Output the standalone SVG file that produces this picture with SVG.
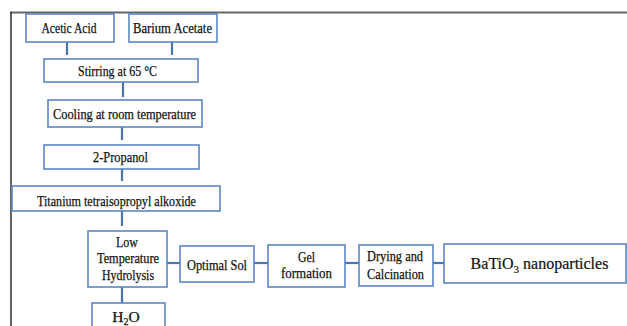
<svg xmlns="http://www.w3.org/2000/svg" width="627" height="326" viewBox="0 0 627 326">
<style>
.box{fill:#ffffff;stroke:#5b87c2;stroke-width:1.6}
.t{font-family:'Liberation Serif','DejaVu Serif','Times New Roman',serif;font-size:15.5px;fill:#111111;stroke:#111111;stroke-width:0.25;text-anchor:middle}
.big{font-family:'Liberation Serif','DejaVu Serif','Times New Roman',serif;font-size:16px;fill:#111111;stroke:#111111;stroke-width:0.2;text-anchor:middle}
.c{stroke:#4a76ae;stroke-width:2.2;fill:none}
</style>
<rect x="0" y="0" width="627" height="326" fill="#ffffff"/>
<g id="frame">
<line x1="10" y1="12.5" x2="627" y2="12.5" stroke="#666666" stroke-width="2"/>
<line x1="11" y1="12" x2="11" y2="326" stroke="#222222" stroke-width="1.4"/>
</g>
<g id="connectors">
<line class="c" x1="67" y1="42" x2="67" y2="55"/>
<line class="c" x1="172" y1="42" x2="172" y2="55"/>
<line class="c" x1="123" y1="82" x2="123" y2="97"/>
<line class="c" x1="122" y1="127" x2="122" y2="140"/>
<line class="c" x1="122" y1="169" x2="122" y2="181"/>
<line class="c" x1="122" y1="211" x2="122" y2="226"/>
<line class="c" x1="122" y1="287" x2="122" y2="303"/>
<line class="c" x1="167" y1="263" x2="180" y2="263"/>
<line class="c" x1="254" y1="263" x2="268" y2="263"/>
<line class="c" x1="345" y1="263" x2="359" y2="263"/>
<line class="c" x1="433" y1="263" x2="444" y2="263" stroke-width="1.4"/>
</g>
<g id="acetic-acid">
<rect class="box" x="26" y="14" width="88" height="28"/>
<text class="t" x="69" y="33" textLength="55" lengthAdjust="spacingAndGlyphs">Acetic Acid</text>
</g>
<g id="barium-acetate">
<rect class="box" x="129" y="14" width="88" height="28"/>
<text class="t" x="172.5" y="33" textLength="79" lengthAdjust="spacingAndGlyphs">Barium Acetate</text>
</g>
<g id="stirring">
<rect class="box" x="44" y="59" width="154" height="23"/>
<text class="t" x="117.5" y="76" textLength="79" lengthAdjust="spacingAndGlyphs">Stirring at 65 °C</text>
</g>
<g id="cooling">
<rect class="box" x="48" y="100" width="154" height="27"/>
<text class="t" x="124.5" y="119" textLength="143" lengthAdjust="spacingAndGlyphs">Cooling at room temperature</text>
</g>
<g id="propanol">
<rect class="box" x="44" y="145" width="155" height="24"/>
<text class="t" x="120.5" y="162" textLength="55" lengthAdjust="spacingAndGlyphs">2-Propanol</text>
</g>
<g id="titanium">
<rect class="box" x="12" y="186" width="208" height="25"/>
<text class="t" x="116.5" y="206" textLength="159" lengthAdjust="spacingAndGlyphs">Titanium tetraisopropyl alkoxide</text>
</g>
<g id="hydrolysis">
<rect class="box" x="88" y="231" width="79" height="56"/>
<text class="t" x="127" y="247" textLength="22" lengthAdjust="spacingAndGlyphs">Low</text>
<text class="t" x="128" y="263" textLength="62" lengthAdjust="spacingAndGlyphs">Temperature</text>
<text class="t" x="128" y="280" textLength="52" lengthAdjust="spacingAndGlyphs">Hydrolysis</text>
</g>
<g id="h2o">
<rect class="box" x="92" y="303" width="73" height="30"/>
<text class="t" x="126" y="322">H<tspan font-size="10" dy="3">2</tspan><tspan dy="-3">O</tspan></text>
</g>
<g id="optimal-sol">
<rect class="box" x="180" y="246" width="74" height="36"/>
<text class="t" x="217" y="270" textLength="60" lengthAdjust="spacingAndGlyphs">Optimal Sol</text>
</g>
<g id="gel">
<rect class="box" x="268" y="245" width="77" height="42"/>
<text class="t" x="306.5" y="262" textLength="17" lengthAdjust="spacingAndGlyphs">Gel</text>
<text class="t" x="306.5" y="278" textLength="51" lengthAdjust="spacingAndGlyphs">formation</text>
</g>
<g id="drying">
<rect class="box" x="359" y="245" width="74" height="41"/>
<text class="t" x="395" y="261" textLength="56" lengthAdjust="spacingAndGlyphs">Drying and</text>
<text class="t" x="395.5" y="279" textLength="57" lengthAdjust="spacingAndGlyphs">Calcination</text>
</g>
<g id="batio3">
<rect class="box" x="444" y="244" width="182" height="39"/>
<text class="big" x="539.5" y="269">BaTiO<tspan font-size="11" dy="4">3</tspan><tspan dy="-4"> nanoparticles</tspan></text>
</g>
</svg>
